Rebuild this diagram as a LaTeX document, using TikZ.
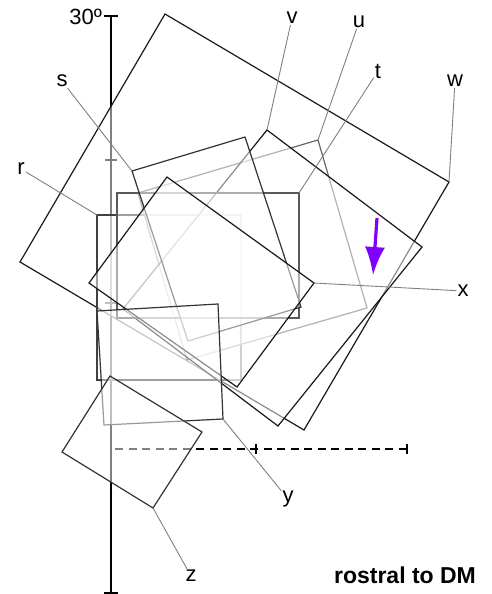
\documentclass[tikz,border=0pt]{standalone}
\usepackage{xcolor}
\usepackage{fontspec}
\setmainfont{Liberation Sans}
\usetikzlibrary{arrows.meta,calc}

\definecolor{arrowviolet}{RGB}{127,0,255}

\begin{document}
\begin{tikzpicture}[x=1pt, y=-1pt,
    frame/.style={fill=white, fill opacity=0.5, line width=1.2pt, line join=miter},
    leader/.style={draw=black!50, line width=0.9pt},
    lab/.style={font=\fontsize{22}{22}\selectfont, inner sep=1pt},
    axisline/.style={draw=black, line width=2.6pt},
    tick/.style={draw=black, line width=1.8pt},
    scalebar/.style={draw=black, line width=2.8pt, dash pattern=on 8pt off 5.5pt}]

\useasboundingbox (0,0) rectangle (492,594);

% Axis (Left)
\coordinate (ax_top) at (111,16);
\coordinate (ax_bot) at (111,593);
\draw[axisline] (ax_top) -- (ax_bot);
\draw[tick] (104,16) -- (118,16);
\draw[tick] (105,160) -- (117,160);
\draw[tick] (105,303) -- (117,303);
\draw[tick] (104,593) -- (118,593);
\node[lab, anchor=east] (deg) at (103,17) {30º};

% Scale bar
\coordinate (bar_l) at (115,449);
\coordinate (bar_m) at (256,449);
\coordinate (bar_r) at (407,449);
\draw[scalebar] (bar_l) -- (bar_r);
\draw[tick] ($(bar_m)+(0,-5)$) -- ($(bar_m)+(0,5)$);
\draw[tick] ($(bar_r)+(0,-5)$) -- ($(bar_r)+(0,5)$);

% Frame corners
\coordinate (w1) at (165,14);  \coordinate (w2) at (449,182);
\coordinate (w3) at (304,430); \coordinate (w4) at (20,262);
\coordinate (r1) at (97,215);  \coordinate (r2) at (241,215);
\coordinate (r3) at (241,380); \coordinate (r4) at (97,380);
\coordinate (u1) at (318,140); \coordinate (u2) at (367,308);
\coordinate (u3) at (187,360); \coordinate (u4) at (138,193);
\coordinate (v1) at (267,130); \coordinate (v2) at (422,247);
\coordinate (v3) at (278,426); \coordinate (v4) at (123,309);
\coordinate (t1) at (117,193); \coordinate (t2) at (299,193);
\coordinate (t3) at (299,318); \coordinate (t4) at (117,318);
\coordinate (s1) at (132,171); \coordinate (s2) at (245,137);
\coordinate (s3) at (301,307); \coordinate (s4) at (188,341);
\coordinate (x1) at (167,177); \coordinate (x2) at (314,283);
\coordinate (x3) at (237,387); \coordinate (x4) at (89,283);
\coordinate (y1) at (97,311);  \coordinate (y2) at (218,304);
\coordinate (y3) at (223,419); \coordinate (y4) at (104,425);
\coordinate (z1) at (110,376); \coordinate (z2) at (202,432);
\coordinate (z3) at (153,508); \coordinate (z4) at (62,452);

% Frames, back to front
\draw[frame, draw=black!90] (w1) -- (w2) -- (w3) -- (w4) -- cycle;
\draw[frame, draw=black!75] (r1) -- (r2) -- (r3) -- (r4) -- cycle;
\draw[frame, draw=black!60] (u1) -- (u2) -- (u3) -- (u4) -- cycle;
\draw[frame, draw=black!90] (v1) -- (v2) -- (v3) -- (v4) -- cycle;
\draw[frame, draw=black!65] (t1) -- (t2) -- (t3) -- (t4) -- cycle;
\draw[frame, draw=black!80] (s1) -- (s2) -- (s3) -- (s4) -- cycle;
\draw[frame, draw=black!90] (x1) -- (x2) -- (x3) -- (x4) -- cycle;
\draw[frame, draw=black!80] (y1) -- (y2) -- (y3) -- (y4) -- cycle;
\draw[frame, draw=black!80] (z1) -- (z2) -- (z3) -- (z4) -- cycle;

% Labels
\node[lab] (lab_r) at (21,169) {r};
\node[lab] (lab_s) at (62,81) {s};
\node[lab] (lab_t) at (378,71) {t};
\node[lab] (lab_u) at (359,22) {u};
\node[lab] (lab_v) at (292,18) {v};
\node[lab] (lab_w) at (455,81) {w};
\node[lab] (lab_x) at (463,291) {x};
\node[lab] (lab_y) at (288,499) {y};
\node[lab] (lab_z) at (191,576) {z};

% Leaders
\draw[leader] (lab_r) -- (r1);
\draw[leader] (lab_s) -- (s1);
\draw[leader] (lab_t) -- (t2);
\draw[leader] (lab_u) -- (u1);
\draw[leader] (lab_v) -- (v1);
\draw[leader] (lab_w) -- (w2);
\draw[leader] (lab_x) -- (x2);
\draw[leader] (lab_y) -- (y3);
\draw[leader] (lab_z) -- (z3);

% Direction arrow
\coordinate (arr_top) at (377,218);
\coordinate (arr_tip) at (373,275);
\draw[-{Latex[length=28pt,width=20pt]}, arrowviolet, line width=3.2pt] (arr_top) -- (arr_tip);

\node[font=\fontsize{23}{23}\selectfont\bfseries] (caption) at (405,575) {rostral to DM};

\end{tikzpicture}
\end{document}
